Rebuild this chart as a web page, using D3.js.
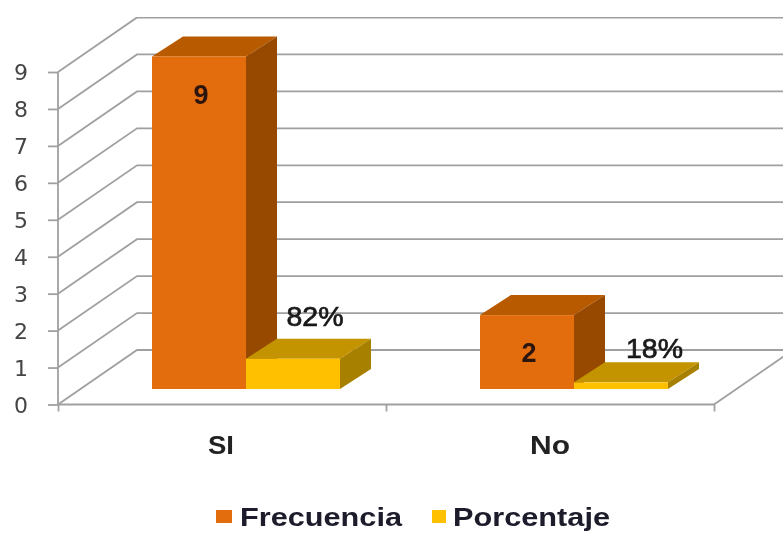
<!DOCTYPE html>
<html><head><meta charset="utf-8">
<script src="https://cdnjs.cloudflare.com/ajax/libs/d3/7.8.5/d3.min.js"></script>
<style>html,body{margin:0;background:#fff}svg{display:block}</style>
</head><body><svg id="c" width="783" height="533"></svg>
<script>
const categories = ["SI", "No"];
const seriesNames = ["Frecuencia", "Porcentaje"];
const frecuencia = [9, 2];
const porcentaje = [0.82, 0.18];
const porcentajeLabels = ["82%", "18%"];
const yTicks = [0,1,2,3,4,5,6,7,8,9];

const svg = d3.select("#c");
const root = svg.append("g").attr("filter","url(#soft)");
svg.append("defs").append("filter").attr("id","soft").attr("x",0).attr("y",0).attr("width","100%").attr("height","100%")
  .append("feGaussianBlur").attr("stdDeviation",0.6);

const y = d3.scaleLinear().domain([0,9]).range([404.5,72]);
const x = d3.scaleBand().domain(categories).range([58,714]);
const inner = d3.scaleBand().domain(seriesNames).range([70,258]);
const wall = {dx:79, dy:-54.5};
const bar = {dx:24, dy:-15.5, ddx:31, ddy:-20};
const grid = "#a0a0a0";

// walls
yTicks.forEach(t=>{
  root.append("path").attr("fill","none").attr("stroke",grid).attr("stroke-width",1.8)
    .attr("d",d3.line()([[x.range()[0],y(t)],[x.range()[0]+wall.dx,y(t)+wall.dy],[800,y(t)+wall.dy]]));
});
root.append("line").attr("x1",714).attr("y1",404.5).attr("x2",714+wall.dx).attr("y2",404.5+wall.dy)
  .attr("stroke",grid).attr("stroke-width",1.8);

// axes
const gy = root.append("g").attr("transform","translate(58,0)")
  .call(d3.axisLeft(y).tickValues(yTicks).tickFormat(d3.format("d")).tickSize(10).tickPadding(20));
gy.selectAll("path,line").attr("stroke",grid).attr("stroke-width",1.8);
gy.select("path").attr("d","M0,72V404.5");
gy.selectAll("text").attr("font-family","DejaVu Sans").attr("font-size",22).attr("fill","#444").attr("dy","0.36em");
const gx = root.append("g").attr("transform","translate(0,404.5)")
  .call(d3.axisBottom(d3.scalePoint().domain(d3.range(3)).range([58,714])).tickSize(7).tickFormat(""));
gx.selectAll("path,line").attr("stroke",grid).attr("stroke-width",1.8);
gx.select("path").attr("d","M58,0H714");

// 3D bars
function box(g,x0,w,v,col){
  const X=x0+bar.dx, Y0=y(0)+bar.dy, Y1=y(v)+bar.dy, dx=bar.ddx, dy=bar.ddy, L=d3.line();
  g.append("path").attr("fill",col.top).attr("d",L([[X,Y1],[X+dx,Y1+dy],[X+w+dx,Y1+dy],[X+w,Y1]])+"Z");
  g.append("path").attr("fill",col.side).attr("d",L([[X+w,Y1],[X+w+dx,Y1+dy],[X+w+dx,Y0+dy],[X+w,Y0]])+"Z");
  g.append("rect").attr("x",X).attr("y",Y1).attr("width",w).attr("height",Y0-Y1).attr("fill",col.front);
}
const colF={front:"#e36c09",top:"#b85a06",side:"#974806"};
const colP={front:"#ffc000",top:"#c49400",side:"#a88000"};
const catCenters=[221,550], catWidths=[26,40], pctCenters=[315,654.5], pctBase=[326,358];
categories.forEach((c,i)=>{
  const g=root.append("g");
  const x1=x(c)+inner("Frecuencia"), x2=x(c)+inner("Porcentaje"), w=inner.bandwidth();
  box(g,x1,w,frecuencia[i],colF);
  box(g,x2,w,porcentaje[i],colP);
  root.append("text").attr("x",x1+bar.dx+w/2+2).attr("y",y(frecuencia[i])+bar.dy+47).attr("text-anchor","middle")
    .attr("font-family","Liberation Sans").attr("font-weight","bold").attr("font-size",27).attr("fill","#2a1208").text(frecuencia[i]);
  root.append("text").attr("x",pctCenters[i]).attr("y",pctBase[i]).attr("text-anchor","middle")
    .attr("font-family","Liberation Sans").attr("font-size",27).attr("fill","#1a1a1a").attr("stroke","#1a1a1a").attr("stroke-width",0.7)
    .attr("textLength",57).attr("lengthAdjust","spacingAndGlyphs").text(porcentajeLabels[i]);
  root.append("text").attr("x",catCenters[i]).attr("y",454).attr("text-anchor","middle")
    .attr("font-family","Liberation Sans").attr("font-weight","bold").attr("font-size",26).attr("fill","#222")
    .attr("textLength",catWidths[i]).attr("lengthAdjust","spacingAndGlyphs").text(c);
});

// legend
const legX=[216,432], legW=[16,14], legTextX=[240,453], legLen=[162,157], legCol=[colF.front,colP.front];
seriesNames.forEach((s,i)=>{
  root.append("rect").attr("x",legX[i]).attr("y",510).attr("width",legW[i]).attr("height",13).attr("fill",legCol[i]);
  root.append("text").attr("x",legTextX[i]).attr("y",526).attr("font-family","Liberation Sans").attr("font-weight","bold")
    .attr("font-size",26).attr("textLength",legLen[i]).attr("lengthAdjust","spacingAndGlyphs").attr("fill","#1a1a2a").text(s);
});
</script></body></html>
